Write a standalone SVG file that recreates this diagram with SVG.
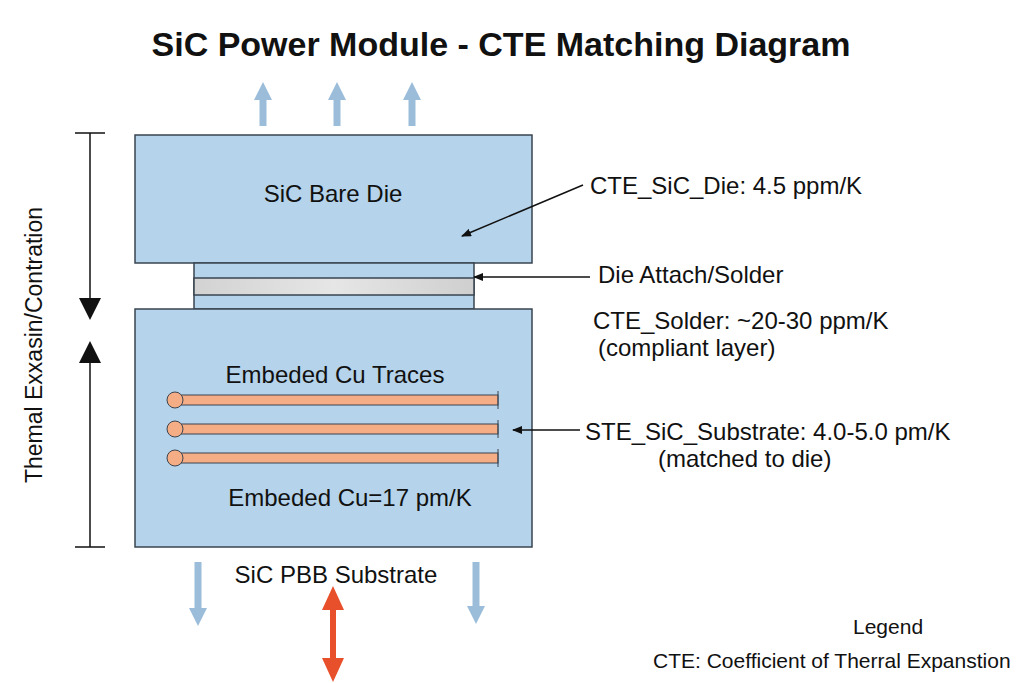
<svg xmlns="http://www.w3.org/2000/svg" width="1024" height="683" viewBox="0 0 1024 683">
<style>
text{font-family:"Liberation Sans",Arial,sans-serif;fill:#111}
.blk{fill:#b5d3ea;stroke:#3a4450;stroke-width:1.5}
.ln{stroke:#111;stroke-width:1.5;fill:none}
.bl{stroke:#9bbdd9;stroke-width:7}
.tr{stroke:#3a4450;stroke-width:1;fill:#f5ad85}
</style>
<defs>
<marker id="ah" markerWidth="10" markerHeight="8" refX="9" refY="4" orient="auto" markerUnits="userSpaceOnUse"><path d="M0,0L10,4L0,8Z" fill="#111"/></marker>
<marker id="bh" markerWidth="18" markerHeight="18" refX="2" refY="9" orient="auto" markerUnits="userSpaceOnUse"><path d="M0,0L18,9L0,18Z" fill="#9bbdd9"/></marker>
<marker id="rh" markerWidth="24" markerHeight="22" refX="2" refY="11" orient="auto-start-reverse" markerUnits="userSpaceOnUse"><path d="M0,0L24,11L0,22Z" fill="#e8502b"/></marker>
<marker id="kh" markerWidth="22" markerHeight="22" refX="20" refY="11" orient="auto-start-reverse" markerUnits="userSpaceOnUse"><path d="M0,0L22,11L0,22Z" fill="#111"/></marker>
<linearGradient id="g" x1="0" x2="1"><stop offset="0" stop-color="#d2d2d2"/><stop offset="0.5" stop-color="#e6e6e6"/><stop offset="1" stop-color="#cfcfcf"/></linearGradient>
</defs>
<rect width="1024" height="683" fill="#fff"/>
<text x="501" y="56" text-anchor="middle" font-size="34" font-weight="bold">SiC Power Module - CTE Matching Diagram</text>
<g id="die"><rect class="blk" x="135" y="135" width="397" height="128"/><text x="333" y="202" text-anchor="middle" font-size="24">SiC Bare Die</text></g>
<g id="solder"><rect class="blk" x="194" y="263" width="280" height="46"/><rect x="194" y="278" width="280" height="17" fill="url(#g)" stroke="#3a4450" stroke-width="1.5"/></g>
<g id="substrate"><rect class="blk" x="135" y="309" width="397" height="238"/>
<text x="335" y="383" text-anchor="middle" font-size="24">Embeded Cu Traces</text>
<text x="350" y="506" text-anchor="middle" font-size="24">Embeded Cu=17 pm/K</text>
<g id="traces">
<rect class="tr" x="175" y="395" width="323" height="10"/><circle class="tr" cx="175" cy="400" r="8"/><line x1="498" y1="391" x2="498" y2="409" stroke="#3a4450"/>
<rect class="tr" x="175" y="424" width="323" height="10"/><circle class="tr" cx="175" cy="429" r="8"/><line x1="498" y1="420" x2="498" y2="438" stroke="#3a4450"/>
<rect class="tr" x="175" y="453" width="323" height="10"/><circle class="tr" cx="175" cy="458" r="8"/><line x1="498" y1="449" x2="498" y2="467" stroke="#3a4450"/>
</g></g>
<text x="336" y="583" text-anchor="middle" font-size="24">SiC PBB Substrate</text>
<g id="connectors">
<line class="bl" x1="263" y1="126" x2="263" y2="98" marker-end="url(#bh)"/>
<line class="bl" x1="337" y1="126" x2="337" y2="98" marker-end="url(#bh)"/>
<line class="bl" x1="412" y1="126" x2="412" y2="98" marker-end="url(#bh)"/>
<line class="bl" x1="198" y1="562" x2="198" y2="610" marker-end="url(#bh)"/>
<line class="bl" x1="476" y1="562" x2="476" y2="608" marker-end="url(#bh)"/>
<line x1="333" y1="608" x2="333" y2="660" stroke="#e8502b" stroke-width="6" marker-start="url(#rh)" marker-end="url(#rh)"/>
<line class="ln" x1="75" y1="133" x2="105" y2="133"/>
<line class="ln" x1="75" y1="547" x2="105" y2="547"/>
<line class="ln" x1="90" y1="133" x2="90" y2="318" marker-end="url(#kh)"/>
<line class="ln" x1="90" y1="547" x2="90" y2="343" marker-end="url(#kh)"/>
<line class="ln" x1="583" y1="185" x2="462" y2="236" marker-end="url(#ah)"/>
<line class="ln" x1="590" y1="277" x2="474" y2="277" marker-end="url(#ah)"/>
<line class="ln" x1="580" y1="430" x2="513" y2="430" marker-end="url(#ah)"/>
</g>
<text transform="translate(42,345) rotate(-90)" text-anchor="middle" font-size="23">Themal Exxasin/Contration</text>
<text x="590" y="194" font-size="24">CTE_SiC_Die: 4.5 ppm/K</text>
<text x="598" y="283" font-size="24">Die Attach/Solder</text>
<text x="593" y="329" font-size="24">CTE_Solder: ~20-30 ppm/K</text>
<text x="598" y="356" font-size="24"> (compliant layer)</text>
<text x="585" y="440" font-size="24">STE_SiC_Substrate: 4.0-5.0 pm/K</text>
<text x="658" y="467" font-size="24">(matched to die)</text>
<text x="853" y="634" font-size="21">Legend</text>
<text x="653" y="668" font-size="21">CTE: Coefficient of Therral Expanstion</text>
</svg>
